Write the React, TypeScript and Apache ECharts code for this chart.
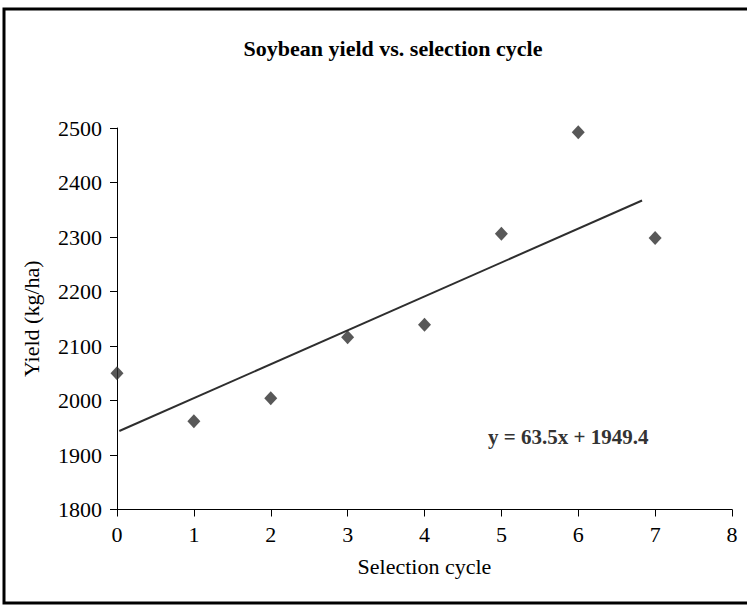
import React, { useEffect, useRef } from "react";
import * as echarts from "echarts";

const cycles = [0, 1, 2, 3, 4, 5, 6, 7];
const yields = [2050, 1962, 2004, 2116, 2139, 2306, 2492, 2298];
const trendX = [0.03, 6.83];
const trendY = [1944, 2367];
const titleText = "Soybean yield vs. selection cycle";
const xTitle = "Selection cycle";
const yTitle = "Yield (kg/ha)";
const equationText = "y = 63.5x + 1949.4";

const FONT = "'Liberation Serif', 'Times New Roman', serif";

export default function App() {
  const ref = useRef<HTMLDivElement>(null);
  useEffect(() => {
    document.body.style.margin = "0";
    const chart = echarts.init(ref.current!, null, { renderer: "svg" });
    const points = cycles.map((c, i) => [c, yields[i]]);
    const trend = trendX.map((x, i) => [x, trendY[i]]);
    chart.setOption({
      animation: false,
      backgroundColor: "#fff",
      textStyle: { fontFamily: FONT },
      title: {
        text: titleText,
        left: 388,
        top: 32,
        textAlign: "center",
        textStyle: { fontFamily: FONT, fontSize: 22, fontWeight: "bold", color: "#000" },
      },
      grid: { left: 117, top: 128, width: 615, height: 381.5 },
      xAxis: {
        type: "value",
        min: 0,
        max: 8,
        interval: 1,
        name: xTitle,
        nameLocation: "middle",
        nameGap: 46,
        nameTextStyle: { fontFamily: FONT, fontSize: 22, color: "#000" },
        axisLine: { show: true, onZero: false, lineStyle: { color: "#000", width: 1 } },
        axisTick: { show: true, length: 7, lineStyle: { color: "#000" } },
        axisLabel: { fontFamily: FONT, fontSize: 22, color: "#000", margin: 14 },
        splitLine: { show: false },
      },
      yAxis: {
        type: "value",
        min: 1800,
        max: 2500,
        interval: 100,
        name: yTitle,
        nameLocation: "middle",
        nameGap: 75,
        nameRotate: 90,
        nameTextStyle: { fontFamily: FONT, fontSize: 22, color: "#000" },
        axisLine: { show: true, lineStyle: { color: "#000", width: 1 } },
        axisTick: { show: true, length: 7, lineStyle: { color: "#000" } },
        axisLabel: {
          fontFamily: FONT,
          fontSize: 22,
          color: "#000",
          margin: 15,
          formatter: (v: number) => String(v),
        },
        splitLine: { show: false },
      },
      graphic: [
        {
          type: "rect",
          shape: { x: 4, y: 9, width: 780, height: 594 },
          style: { fill: "none", stroke: "#000", lineWidth: 3 },
          silent: true,
        },
        {
          type: "text",
          left: 488,
          top: 426,
          style: {
            text: equationText,
            fontFamily: FONT,
            fontSize: 21,
            fontWeight: "bold",
            fill: "#333",
          },
        },
      ],
      series: [
        {
          type: "line",
          data: trend,
          symbol: "none",
          lineStyle: { color: "#2e2e2e", width: 2 },
          z: 2,
        },
        {
          type: "scatter",
          data: points,
          symbol: "diamond",
          symbolSize: [13, 14],
          itemStyle: { color: "#2e2e2e" },
          z: 3,
        },
      ],
    });
    return () => chart.dispose();
  }, []);
  return <div ref={ref} style={{ width: 747, height: 605 }} />;
}
